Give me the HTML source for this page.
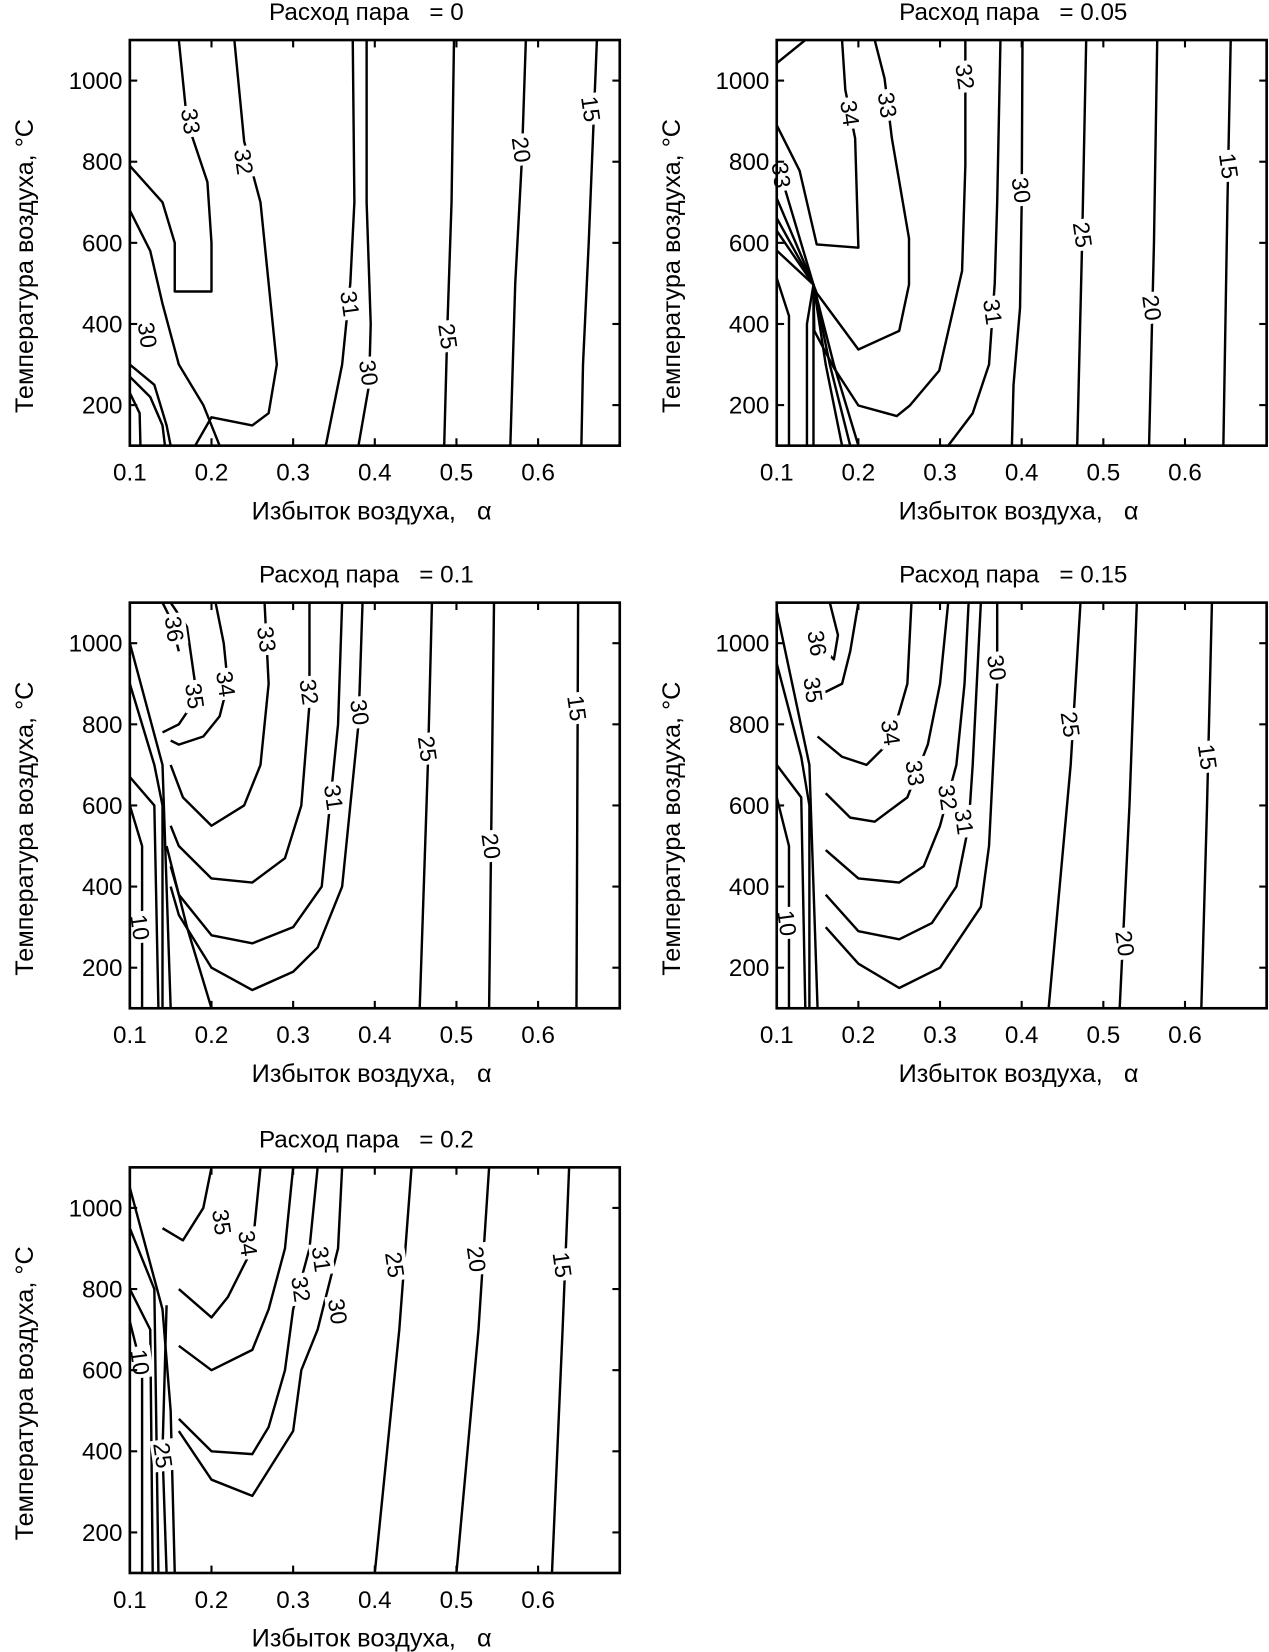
<!DOCTYPE html>
<html><head><meta charset="utf-8"><style>
html,body{margin:0;padding:0;background:#fff}
svg{display:block}
text{font-family:"Liberation Sans",sans-serif;fill:#000;white-space:pre}
</style></head><body>
<svg id="root" xmlns="http://www.w3.org/2000/svg" width="1269" height="1652" viewBox="0 0 1204 1568"></svg>
<script>
const xTicks=[0.1,0.2,0.3,0.4,0.5,0.6];
const yTicks=[200,400,600,800,1000];
const titles=["Расход пара   = 0","Расход пара   = 0.05","Расход пара   = 0.1","Расход пара   = 0.15","Расход пара   = 0.2"];
const contours1=[
{lv:"15",pts:[[0.672,1100],[0.668,900],[0.662,600],[0.655,300],[0.653,100]],lab:[0.665,930]},
{lv:"20",pts:[[0.585,1100],[0.58,800],[0.572,500],[0.566,100]],lab:[0.58,830]},
{lv:"25",pts:[[0.497,1100],[0.494,700],[0.489,400],[0.485,100]],lab:[0.49,370]},
{lv:"30",pts:[[0.39,1100],[0.39,700],[0.395,400],[0.393,250],[0.38,100]],lab:[0.393,280]},
{lv:"31",pts:[[0.373,1100],[0.375,700],[0.37,500],[0.36,300],[0.34,100]],lab:[0.37,450]},
{lv:"32",pts:[[0.228,1100],[0.24,850],[0.26,700],[0.27,500],[0.28,300],[0.27,180],[0.25,150],[0.2,170],[0.18,100]],lab:[0.24,800]},
{lv:"33",pts:[[0.16,1100],[0.17,900],[0.195,750],[0.2,600],[0.2,480],[0.155,480],[0.155,600],[0.14,700],[0.1,790]],lab:[0.175,900]},
{lv:"30",pts:[[0.1,680],[0.125,580],[0.14,450],[0.16,300],[0.19,200],[0.21,100]],lab:[0.122,373]},
{lv:"",pts:[[0.1,300],[0.13,250],[0.145,150],[0.15,100]]},
{lv:"",pts:[[0.1,270],[0.125,220],[0.14,150],[0.143,100]]},
{lv:"",pts:[[0.1,230],[0.112,180],[0.113,100]]}];
const contours2=[
{lv:"15",pts:[[0.656,1100],[0.652,700],[0.647,100]],lab:[0.654,790]},
{lv:"20",pts:[[0.566,1100],[0.562,600],[0.556,100]],lab:[0.56,440]},
{lv:"25",pts:[[0.479,1100],[0.474,600],[0.468,100]],lab:[0.475,620]},
{lv:"30",pts:[[0.401,1100],[0.4,700],[0.398,440],[0.39,250],[0.388,100]],lab:[0.4,730]},
{lv:"31",pts:[[0.374,1100],[0.37,700],[0.367,500],[0.36,300],[0.34,180],[0.31,100]],lab:[0.365,430]},
{lv:"32",pts:[[0.331,1100],[0.331,791],[0.327,531],[0.299,285],[0.263,199],[0.247,173],[0.2,199],[0.17,292],[0.146,383],[0.145,497]],lab:[0.331,1010]},
{lv:"33",pts:[[0.22,1100],[0.232,1006],[0.241,858],[0.262,611],[0.262,497],[0.25,383],[0.2,337],[0.174,408],[0.149,476],[0.145,497]],lab:[0.236,940]},
{lv:"34",pts:[[0.18,1100],[0.184,977],[0.196,858],[0.2,588],[0.149,596],[0.128,778],[0.1,890]],lab:[0.19,920]},
{lv:"",pts:[[0.1,1043],[0.135,1100]]},
{lv:"33",pts:[[0.1,801],[0.145,497],[0.145,100]],lab:[0.106,767]},
{lv:"",pts:[[0.1,710],[0.145,497],[0.137,400],[0.137,100]]},
{lv:"",pts:[[0.1,661],[0.145,497],[0.17,300],[0.2,100]]},
{lv:"",pts:[[0.1,630],[0.145,497],[0.165,300],[0.19,100]]},
{lv:"",pts:[[0.1,581],[0.145,497],[0.16,300],[0.18,100]]},
{lv:"",pts:[[0.1,513],[0.115,420],[0.115,100]]}];
const contours3=[
{lv:"15",pts:[[0.649,1100],[0.648,600],[0.647,100]],lab:[0.648,840]},
{lv:"20",pts:[[0.546,1100],[0.543,600],[0.54,100]],lab:[0.543,500]},
{lv:"25",pts:[[0.47,1100],[0.465,700],[0.455,100]],lab:[0.465,740]},
{lv:"30",pts:[[0.385,1100],[0.38,800],[0.37,600],[0.36,400],[0.33,250],[0.3,190],[0.25,145],[0.2,200],[0.16,330],[0.15,400]],lab:[0.382,830]},
{lv:"31",pts:[[0.36,1100],[0.355,800],[0.345,600],[0.335,400],[0.3,300],[0.25,260],[0.2,280],[0.16,380],[0.15,450]],lab:[0.35,620]},
{lv:"32",pts:[[0.32,1100],[0.32,850],[0.31,600],[0.29,470],[0.25,410],[0.2,420],[0.16,500],[0.15,550]],lab:[0.32,880]},
{lv:"33",pts:[[0.265,1100],[0.27,900],[0.26,700],[0.24,600],[0.2,550],[0.165,620],[0.15,700]],lab:[0.268,1010]},
{lv:"34",pts:[[0.205,1100],[0.215,1000],[0.22,900],[0.21,820],[0.19,770],[0.16,750],[0.15,760]],lab:[0.218,900]},
{lv:"35",pts:[[0.15,1100],[0.17,1040],[0.18,900],[0.17,830],[0.16,800],[0.14,780]],lab:[0.18,870]},
{lv:"36",pts:[[0.14,1100],[0.15,1060],[0.16,980]],lab:[0.155,1035]},
{lv:"10",pts:[[0.1,600],[0.115,500],[0.115,100]],lab:[0.113,300]},
{lv:"",pts:[[0.1,1000],[0.14,700],[0.145,400],[0.15,100]]},
{lv:"",pts:[[0.1,900],[0.13,700],[0.14,600],[0.14,100]]},
{lv:"",pts:[[0.1,670],[0.13,600],[0.135,100]]},
{lv:"",pts:[[0.145,500],[0.17,300],[0.2,100]]}];
const contours4=[
{lv:"15",pts:[[0.633,1100],[0.627,600],[0.62,100]],lab:[0.628,720]},
{lv:"20",pts:[[0.541,1100],[0.532,600],[0.52,100]],lab:[0.527,260]},
{lv:"25",pts:[[0.472,1100],[0.46,700],[0.433,100]],lab:[0.46,800]},
{lv:"30",pts:[[0.37,1100],[0.37,900],[0.365,700],[0.36,500],[0.35,350],[0.3,200],[0.25,150],[0.2,210],[0.16,300]],lab:[0.37,940]},
{lv:"31",pts:[[0.35,1100],[0.345,900],[0.34,700],[0.335,550],[0.32,400],[0.29,310],[0.25,270],[0.2,290],[0.16,380]],lab:[0.33,560]},
{lv:"32",pts:[[0.335,1100],[0.33,900],[0.32,700],[0.3,550],[0.28,450],[0.25,410],[0.2,420],[0.16,490]],lab:[0.31,620]},
{lv:"33",pts:[[0.31,1100],[0.3,900],[0.285,750],[0.26,620],[0.22,560],[0.19,570],[0.16,630]],lab:[0.27,680]},
{lv:"34",pts:[[0.265,1100],[0.26,900],[0.24,760],[0.21,700],[0.18,720],[0.15,770]],lab:[0.24,780]},
{lv:"35",pts:[[0.2,1100],[0.19,980],[0.18,900],[0.16,880],[0.14,900]],lab:[0.145,885]},
{lv:"36",pts:[[0.165,1100],[0.175,1020],[0.17,960],[0.145,1010]],lab:[0.15,1000]},
{lv:"10",pts:[[0.1,620],[0.115,500],[0.115,100]],lab:[0.113,310]},
{lv:"",pts:[[0.1,1080],[0.14,700],[0.15,100]]},
{lv:"",pts:[[0.1,950],[0.13,720],[0.14,600],[0.14,100]]},
{lv:"",pts:[[0.1,700],[0.13,620],[0.135,100]]}];
const contours5=[
{lv:"15",pts:[[0.638,1100],[0.63,700],[0.617,100]],lab:[0.63,860]},
{lv:"20",pts:[[0.54,1100],[0.527,700],[0.5,100]],lab:[0.525,874]},
{lv:"25",pts:[[0.445,1100],[0.43,700],[0.4,100]],lab:[0.425,860]},
{lv:"30",pts:[[0.36,1100],[0.355,900],[0.33,700],[0.31,600],[0.3,450],[0.25,290],[0.2,330],[0.16,450]],lab:[0.355,745]},
{lv:"31",pts:[[0.33,1100],[0.32,900],[0.3,750],[0.29,600],[0.27,460],[0.25,393],[0.2,400],[0.16,480]],lab:[0.335,874]},
{lv:"32",pts:[[0.3,1100],[0.29,900],[0.27,750],[0.25,650],[0.2,600],[0.16,660]],lab:[0.31,800]},
{lv:"34",pts:[[0.26,1100],[0.25,900],[0.22,780],[0.2,730],[0.16,800]],lab:[0.245,913]},
{lv:"35",pts:[[0.2,1100],[0.19,1000],[0.165,920],[0.14,950]],lab:[0.213,965]},
{lv:"10",pts:[[0.1,720],[0.115,600],[0.115,100]],lab:[0.113,620]},
{lv:"25",pts:[[0.145,760],[0.14,400],[0.145,100]],lab:[0.141,390]},
{lv:"",pts:[[0.1,1050],[0.14,750],[0.15,500],[0.155,100]]},
{lv:"",pts:[[0.1,950],[0.13,800],[0.135,100]]},
{lv:"",pts:[[0.1,800],[0.125,700],[0.128,100]]}];
const allContours=[contours1,contours2,contours3,contours4,contours5];
const boxes=[[123,38],[737,38],[123,572],[737,572],[123,1108]];
const W=465,H=385;
const NS="http://www.w3.org/2000/svg";
const root=document.getElementById('root');
function mk(tag,attrs,parent){const e=document.createElementNS(NS,tag);for(const k in attrs)e.setAttribute(k,attrs[k]);(parent||root).appendChild(e);return e;}
boxes.forEach((b,i)=>{
  const [x0,y0]=b;
  const sx=a=>x0+(a-0.1)/0.6*W;
  const sy=t=>y0+(1100-t)/1000*H;
  const g=mk('g',{});
  
  
  const cp=mk('clipPath',{id:'cp'+i},g);
  mk('rect',{x:x0,y:y0,width:W,height:H},cp);
  const lines=mk('g',{'clip-path':'url(#cp'+i+')'},g);
  allContours[i].forEach((c,j)=>{
    const p=mk('polyline',{points:c.pts.map(q=>sx(q[0])+','+sy(q[1])).join(' '),fill:'none',stroke:'#000','stroke-width':2.3,'stroke-linejoin':'round'},lines);
    
    
  });
  allContours[i].forEach(c=>{
    if(!c.lab)return;
    const lx=sx(c.lab[0]),ly=sy(c.lab[1]);
    const lg=mk('g',{transform:'translate('+lx+','+ly+') rotate(82)'},g);
    
    
    mk('rect',{x:-15,y:-11,width:30,height:22,fill:'#fff'},lg);
    const t=mk('text',{x:0,y:8,'text-anchor':'middle','font-size':22},lg);
    t.textContent=c.lv;
  });
  const fr=mk('rect',{x:x0,y:y0,width:W,height:H,fill:'none',stroke:'#000','stroke-width':2.5},g);
  
  
  xTicks.forEach(v=>{
    const x=sx(v);
    mk('line',{x1:x,y1:y0+H,x2:x,y2:y0+H-7,stroke:'#000','stroke-width':2},g);
    mk('line',{x1:x,y1:y0,x2:x,y2:y0+7,stroke:'#000','stroke-width':2},g);
    const t=mk('text',{x:x,y:y0+H+33,'text-anchor':'middle','font-size':23},g);
    
    
    t.textContent=String(v);
  });
  yTicks.forEach(v=>{
    const y=sy(v);
    mk('line',{x1:x0,y1:y,x2:x0+7,y2:y,stroke:'#000','stroke-width':2},g);
    mk('line',{x1:x0+W,y1:y,x2:x0+W-7,y2:y,stroke:'#000','stroke-width':2},g);
    const t=mk('text',{x:x0-7,y:y+8,'text-anchor':'end','font-size':23},g);
    
    
    t.textContent=String(v);
  });
  const tt=mk('text',{x:x0+W/2-8,y:y0-19,'text-anchor':'middle','font-size':23},g);
  
  
  tt.textContent=titles[i];
  const xt=mk('text',{x:x0+W/2-3,y:y0+H+70,'text-anchor':'middle','font-size':24},g);
  
  
  xt.textContent='Избыток воздуха,   α';
  const yt=mk('text',{transform:'translate('+(x0-92)+','+(y0+H/2+22)+') rotate(-90)','text-anchor':'middle','font-size':24},g);
  
  
  yt.textContent='Температура воздуха, °C';
});
</script>
</body></html>
